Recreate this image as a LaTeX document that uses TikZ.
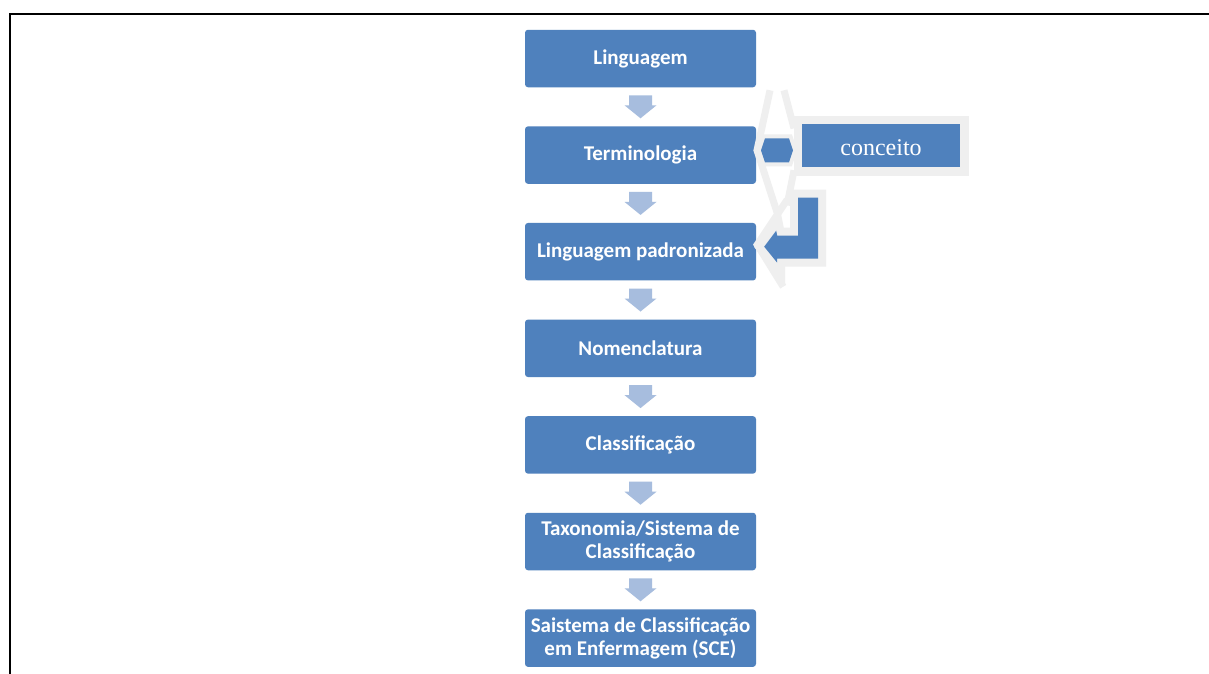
\documentclass[tikz,border=0pt]{standalone}
\usepackage{fontspec}
\setmainfont{Carlito}
\newfontfamily\conceitofont{Liberation Serif}
\usetikzlibrary{calc}
\definecolor{boxblue}{HTML}{4F81BD}
\definecolor{arrowblue}{HTML}{A7BDDE}
\definecolor{halo}{HTML}{EFEFEF}

\begin{document}
\begin{tikzpicture}[x=1pt,y=-1pt,
  stage/.style={fill=boxblue, rounded corners=3pt, minimum width=231pt,
    minimum height=57.5pt, inner sep=0pt, text=white, align=center,
    font=\fontsize{21}{23}\selectfont\bfseries},
  conceptbox/.style={fill=boxblue, minimum width=158pt, minimum height=43pt,
    inner sep=0pt, text=white, font=\conceitofont\fontsize{24}{28}\selectfont,
    text height=20pt, text depth=0pt,
    preaction={draw=halo, line width=17pt}},
  flowarrow/.style={fill=arrowblue},
  bluearrow/.style={fill=boxblue},
  glow/.style={draw=halo, line width=7pt, line join=miter, line cap=butt},
]
\useasboundingbox (0,0) rectangle (1209,673);
\fill[white] (0,0) rectangle (1209,673);

% frame
\draw[line width=2pt] (10,674) -- (10,14) -- (1210,14);

% main chain of stages
\node[stage] (b1) at (640.5,58.5)  {Linguagem};
\node[stage] (b2) at (640.5,155.1) {Terminologia};
\node[stage] (b3) at (640.5,251.7) {Linguagem padronizada};
\node[stage] (b4) at (640.5,348.3) {Nomenclatura};
\node[stage] (b5) at (640.5,444.9) {Classificação};
\node[stage] (b6) at (640.5,541.5) {Taxonomia/Sistema de\\Classificação};
\node[stage] (b7) at (640.5,638.1) {Saistema de Classificação\\em Enfermagem (SCE)};

% block arrows between consecutive stages
\foreach \i [evaluate=\i as \j using int(\i+1)] in {1,...,6} {
  \coordinate (m\i) at ($(b\i.south)!0.5!(b\j.north)$);
  \fill[flowarrow] ($(m\i)+(-11.5,-11.5)$) -- ++(23,0) -- ++(0,10) -- ++(4.5,0)
    -- ($(m\i)+(0,11.5)$) -- ($(m\i)+(-16,-1.5)$) -- ++(4.5,0) -- cycle;
}

% concept box
\node[conceptbox] (c) at (881,145.5) {conceito};

% link between the concept and Terminologia
\coordinate (lr) at ($(b2.east)!0.5!(c.west)$);
\begin{scope}[shift={(lr)}]
  \draw[glow] (-9,-60) -- (-22,0) -- (-2,62);
  \draw[glow] (5,-60) -- (15,-22);
  \draw[glow] (15,20) -- (8,55);
  \fill[bluearrow, preaction={draw=halo, line width=8pt, line join=miter}]
    (-18,0) -- (-14,-12) -- (10,-12) -- (14,0) -- (10,12) -- (-14,12) -- cycle;
\end{scope}

% bent arrow pointing to Linguagem padronizada
\begin{scope}[shift={(b3.east)}]
  \draw[glow] (31,-52) -- (1,-7) -- (27,35);
  \fill[bluearrow, line join=miter, preaction={draw=halo, line width=16pt, line join=miter}]
    (42,-54) -- (62,-54) -- (62,7) -- (21,7) -- (21,11) -- (8,-5) -- (20,-21)
    -- (21,-16) -- (42,-16) -- cycle;
\end{scope}
\end{tikzpicture}
\end{document}
